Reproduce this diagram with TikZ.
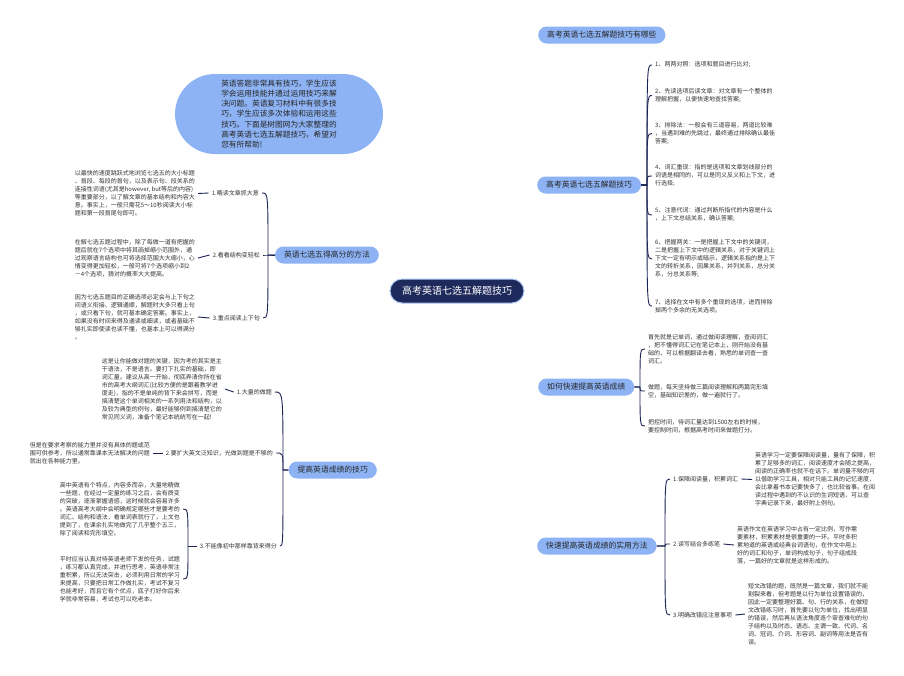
\documentclass[tikz,border=0pt]{standalone}
\usepackage{fontspec}
\setmainfont{Noto Sans CJK SC}
\usetikzlibrary{backgrounds}
\definecolor{navy}{HTML}{1F2A5C}
\definecolor{connc}{HTML}{1E2456}
\definecolor{bluefill}{HTML}{8DB3F4}
\definecolor{txtc}{HTML}{333333}
\tikzset{
  rootbox/.style={fill=navy, draw=bluefill!70!white, line width=1pt, rounded corners=12pt, minimum height=24pt, inner xsep=12pt, inner ysep=0pt, text=white, font=\fontsize{10}{12}\selectfont},
  introbox/.style={fill=bluefill, rounded corners=40pt, minimum width=208pt, minimum height=80pt, inner sep=0pt, align=left, text=black!85, font=\fontsize{7.7}{10.2}\selectfont},
  branch/.style={fill=bluefill, rounded corners=8.5pt, minimum height=17pt, inner xsep=9pt, inner ysep=0pt, text=black!85, font=\fontsize{7.8}{9}\selectfont},
  small/.style={font=\fontsize{6}{8}\selectfont, align=left, inner xsep=3pt, inner ysep=0pt, text=txtc},
  mainconn/.style={draw=connc, line width=1.1pt},
  subconn/.style={draw=connc, line width=0.9pt},
}
\begin{document}
\begin{tikzpicture}[x=1pt,y=-1pt]
\useasboundingbox (0,0) rectangle (904,675);
\fill[white] (0,0) rectangle (904,675);

% root and intro
\node[rootbox] (root) at (457,291) {高考英语七选五解题技巧};
\node[introbox] (intro) at (279,114) {英语答题非常具有技巧，学生应该\\学会运用技能并通过运用技巧来解\\决问题。英语复习材料中有很多技\\巧，学生应该多次体验和运用这些\\技巧。下面是树图网为大家整理的\\高考英语七选五解题技巧，希望对\\您有所帮助!};

% branches
\node[branch, anchor=west] (B1) at (538,35) {高考英语七选五解题技巧有哪些};
\node[branch, anchor=west] (B2) at (537,185) {高考英语七选五解题技巧};
\node[branch, anchor=west] (B3) at (538,387) {如何快速提高英语成绩};
\node[branch, anchor=west] (B4) at (537,546) {快速提高英语成绩的实用方法};
\node[branch, anchor=east] (L1) at (379,255) {英语七选五得高分的方法};
\node[branch, anchor=east] (L2) at (377,470) {提高英语成绩的技巧};

% B2 items
\node[small, anchor=west] (b2a) at (652,65) {1、两两对照：选项和题目进行比对;};
\node[small, anchor=west] (b2b) at (652,95.5) {2、先读选项后读文章：对文章有一个整体的\\理解把握，以便快速地查找答案;};
\node[small, anchor=west] (b2c) at (652,133.5) {3、排除法：一般会有三道容易，两道比较难\\，当遇到难的先跳过，最终通过排除确认最佳\\答案;};
\node[small, anchor=west] (b2d) at (652,176) {4、词汇重现：指的是选项和文章划线部分的\\词语是相同的，可以是同义反义和上下文，进\\行选择;};
\node[small, anchor=west] (b2e) at (652,215) {5、注意代词：通过判断所指代的内容是什么\\，上下文总结关系，确认答案;};
\node[small, anchor=west] (b2f) at (652,259) {6、把握两关：一是把握上下文中的关键词，\\二是把握上下文中的逻辑关系，对于关键词上\\下文一定有明示或暗示，逻辑关系指的是上下\\文的转折关系，因果关系，并列关系，总分关\\系，分总关系等;};
\node[small, anchor=west] (b2g) at (652,306) {7、选择在文中有多个重现的选项，进而排除\\掉两个多余的无关选项。};
\coordinate (b2s) at (647,185);

% B3 items
\node[small, anchor=west] (b3a) at (645,349) {首先就是记单词，通过做阅读理解，查阅词汇\\，把不懂得词汇记在笔记本上，刚开始没有基\\础的，可以根据翻译去看，熟悉的单词查一查\\词汇。};
\node[small, anchor=west] (b3b) at (645,391) {做题，每天坚持做三篇阅读理解和两篇完形填\\空，基础知识差的，做一遍就行了。};
\node[small, anchor=west] (b3c) at (645,426) {把控时间，待词汇量达到1500左右的时候，\\要控制时间，根据高考时间来做题打分。};
\coordinate (b3s) at (640,387);

% B4 items
\node[small, anchor=west] (b4l1) at (670,479) {1.保障阅读量，积累词汇};
\node[small, anchor=west] (b4l2) at (670,544) {2.读写结合多练笔};
\node[small, anchor=west] (b4l3) at (670,615) {3.明确改错应注意事项};
\node[small, anchor=west] (b4t1) at (752,479.5) {英语学习一定要保障阅读量，量有了保障，积\\累了足够多的词汇，阅读速度才会随之提高，\\阅读的正确率也就不在话下。单词量不够的可\\以借助学习工具，相对只能工具的记忆速度，\\会比拿着书本记要快多了，也比较省事。在阅\\读过程中遇到的不认识的生词短语，可以查\\字典记录下来，最好附上例句。};
\node[small, anchor=west] (b4t2) at (734,545) {英语作文在英语学习中占有一定比例，写作需\\要素材，积累素材是很重要的一环。平时多积\\累地道的英语或经典台词语句，在作文中用上\\好的词汇和句子，单词构成句子，句子组成段\\落，一篇好的文章就是这样形成的。};
\node[small, anchor=west] (b4t3) at (745,614) {短文改错的题，既然是一篇文章，我们就不能\\割裂来看，但考题是以行为单位设置错误的，\\因此一定要整理好篇、句、行的关系，在做短\\文改错练习时，首先要以句为单位，找出明显\\的错误，然后再从语法角度逐个审查难句的句\\子结构以及时态、语态、主谓一致、代词、名\\词、冠词、介词、形容词、副词等用法是否有\\误。};
\coordinate (b4s) at (665,546);

% L1 items
\node[small, anchor=east] (l1l1) at (262,193) {1.略读文章抓大意};
\node[small, anchor=east] (l1l2) at (263,255) {2.看看结构变轻松};
\node[small, anchor=east] (l1l3) at (263,318) {3.重点阅读上下句};
\node[small, anchor=east] (l1t1) at (198,193.5) {以最快的速度跳跃式地浏览七选五的大小标题\\、首段、每段的首句，以及表示句、段关系的\\连接性词语(尤其是however, but等后的内容)\\等重要部分，以了解文章的基本结构和内容大\\意。事实上，一般只需花5～10秒阅读大小标\\题和第一段首尾句即可。};
\node[small, anchor=east] (l1t2) at (198,258) {在解七选五题过程中，除了每做一道有把握的\\题后就在7个选项中将其画掉缩小范围外，通\\过观察语言结构也可将选择范围大大缩小，心\\情变得更加轻松，一般可将7个选项缩小到2\\－4个选项，猜对的概率大大提高。};
\node[small, anchor=east] (l1t3) at (198,317) {因为七选五题目的正确选项必定会与上下句之\\间语义衔接、逻辑通顺，解题时大多只看上句\\，或只看下句，就可基本确定答案。事实上，\\如果没有时间来得及通读或细读，或者基础不\\够扎实即使读也读不懂，也基本上可以得满分\\。};
\coordinate (l1s) at (268,255);

% L2 items
\node[small, anchor=east] (l2l1) at (275,392) {1.大量的做题};
\node[small, anchor=east] (l2l2) at (276,453) {2.要扩大英文泛知识，光做到题是不够的};
\node[small, anchor=east] (l2l3) at (280,546) {3.不能像初中那样靠背来得分};
\node[small, anchor=east] (l2t1) at (225,389) {这是让你能做对题的关键，因为考的其实是主\\干语法，不是语言。要打下扎实的基础，即\\词汇量。建议从高一开始，彻底弄清你所在省\\市的高考大纲词汇(比较方便的是跟着教学进\\度走)，指的不是单纯的背下来会拼写，而是\\搞清楚这个单词相关的一系列用法和结构，以\\及较为典型的例句，最好能够例到搞清楚它的\\常见同义词，准备个笔记本统统写在一起!};
\node[small, anchor=east] (l2t2) at (153,453) {但是在要求考察的能力里并没有具体的题或范\\围可供参考，所以通常靠课本无法解决的问题\\就出在各种能力里。};
\node[small, anchor=east] (l2g1) at (183,509) {高中英语有个特点，内容多而杂，大量地精做\\一些题，在经过一定量的练习之后，会有质变\\的突破，逐渐掌握语感，这时候就会容易许多\\。英语高考大纲中会明确规定哪些才是要考的\\词汇、结构和语法，看单词表就行了，上文也\\提到了，在课余扎实地做完了几乎整个五三，\\除了阅读和完形填空。};
\node[small, anchor=east] (l2g2) at (183,579) {平时应当认真对待英语老师下发的任务，试题\\，练习都认真完成，并进行思考，英语非常注\\重积累，所以无法突击，必须利用日常的学习\\来提高，只要把日常工作做扎实，考试不复习\\也能考好，而且它有个优点，底子打好你后来\\学就非常容易，考试也可以吃老本。};
\coordinate (l2s) at (283,470);
\coordinate (l2b) at (188,546);

\begin{pgfonlayer}{background}
% root connectors
\draw[mainconn] (root.center) .. controls (445,180) and (425,115) .. (intro.east);
\draw[mainconn] (root.center) .. controls (512,250) and (500,35) .. (B1.west);
\draw[mainconn] (root.center) .. controls (508,285) and (505,185) .. (B2.west);
\draw[mainconn] (root.center) .. controls (508,300) and (505,387) .. (B3.west);
\draw[mainconn] (root.center) .. controls (510,330) and (500,546) .. (B4.west);
\draw[mainconn] (root.center) .. controls (405,291) and (410,255) .. (L1.east);
\draw[mainconn] (root.center) .. controls (455,380) and (430,470) .. (L2.east);
\end{pgfonlayer}

% B2 spine
\foreach \c in {b2a,b2b,b2c,b2d,b2e,b2f,b2g}
  \draw[subconn] (B2.east) -- (b2s) .. controls (b2s |- \c.west) .. (\c.west);
% B3 spine
\foreach \c in {b3a,b3b,b3c}
  \draw[subconn] (B3.east) -- (b3s) .. controls (b3s |- \c.west) .. (\c.west);
% B4 spine
\foreach \c in {b4l1,b4l2,b4l3}
  \draw[subconn] (B4.east) -- (b4s) .. controls (b4s |- \c.west) .. (\c.west);
\draw[subconn] (b4l1.east) -- (b4t1.west);
\draw[subconn] (b4l2.east) -- (b4t2.west);
\draw[subconn] (b4l3.east) -- (b4t3.west);
% L1 spine
\foreach \c in {l1l1,l1l2,l1l3}
  \draw[subconn] (L1.west) -- (l1s) .. controls (l1s |- \c.east) .. (\c.east);
\draw[subconn] (l1l1.west) -- (l1t1.east);
\draw[subconn] (l1l2.west) -- (l1t2.east);
\draw[subconn] (l1l3.west) -- (l1t3.east);
% L2 spine
\foreach \c in {l2l1,l2l2,l2l3}
  \draw[subconn] (L2.west) -- (l2s) .. controls (l2s |- \c.east) .. (\c.east);
\draw[subconn] (l2l1.west) -- (l2t1.east);
\draw[subconn] (l2l2.west) -- (l2t2.east);
\draw[subconn] (l2l3.west) -- (l2b);
\draw[subconn] (l2b) .. controls (l2b |- l2g1.east) .. (l2g1.east);
\draw[subconn] (l2b) .. controls (l2b |- l2g2.east) .. (l2g2.east);
\end{tikzpicture}
\end{document}
